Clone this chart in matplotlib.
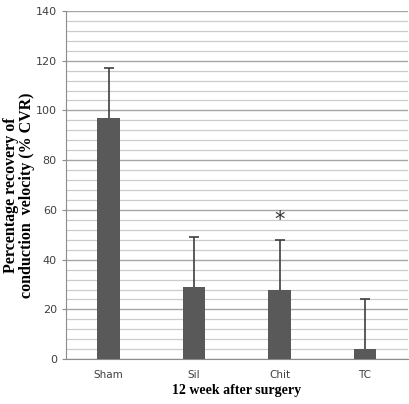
import numpy as np
import matplotlib.pyplot as plt
from matplotlib.ticker import MultipleLocator

groups = ["Sham", "Sil", "Chit", "TC"]
cvr = [97, 29, 28, 4]
sd = [20, 20, 20, 20]
star_group = "Chit"
star_y = 56

fig = plt.figure(figsize=(4.09, 4.04), dpi=100)
ax = fig.add_axes([0.161, 0.111, 0.836, 0.862])

x = np.arange(len(groups)) + 0.5
top = np.array(cvr) + np.array(sd)
ax.bar(x, cvr, width=0.26, color="#595959", zorder=3)
# upper error only, like the original
ax.vlines(x, cvr, top, color="#404040", lw=1.2, zorder=4)
ax.plot(x, top, ls="none", marker="_", ms=7, mew=1.2, color="#404040", zorder=4)

i = groups.index(star_group)
ax.text(x[i], star_y, "*", ha="center", va="center", fontsize=15, color="#333333")

ax.set_xlim(0, len(groups))
ax.set_ylim(0, 140)
ax.yaxis.set_major_locator(MultipleLocator(20))
ax.yaxis.set_minor_locator(MultipleLocator(4))
ax.grid(axis="y", which="major", color="#a6a6a6", lw=1.0, zorder=0)
ax.grid(axis="y", which="minor", color="#cccccc", lw=0.9, zorder=0)
ax.set_xticks(x)
ax.set_xticklabels(groups)
ax.tick_params(axis="x", length=0, pad=8, labelsize=7.5, labelcolor="#404040")
ax.tick_params(axis="y", which="major", length=3, color="#8c8c8c", labelsize=8, labelcolor="#404040")
ax.tick_params(axis="y", which="minor", length=0)
for s in ["top", "right"]:
    ax.spines[s].set_visible(False)
for s in ["left", "bottom"]:
    ax.spines[s].set_color("#8c8c8c")

ax.set_xlabel("12 week after surgery", family="Liberation Serif", fontweight="bold", fontsize=10, labelpad=3)
ax.set_ylabel("Percentage recovery of\nconduction  velocity (% CVR)", family="Liberation Serif",
              fontweight="bold", fontsize=11.5, linespacing=1.0)
ax.yaxis.set_label_coords(-0.09, 0.47)

fig.savefig("out.png", dpi=100)
